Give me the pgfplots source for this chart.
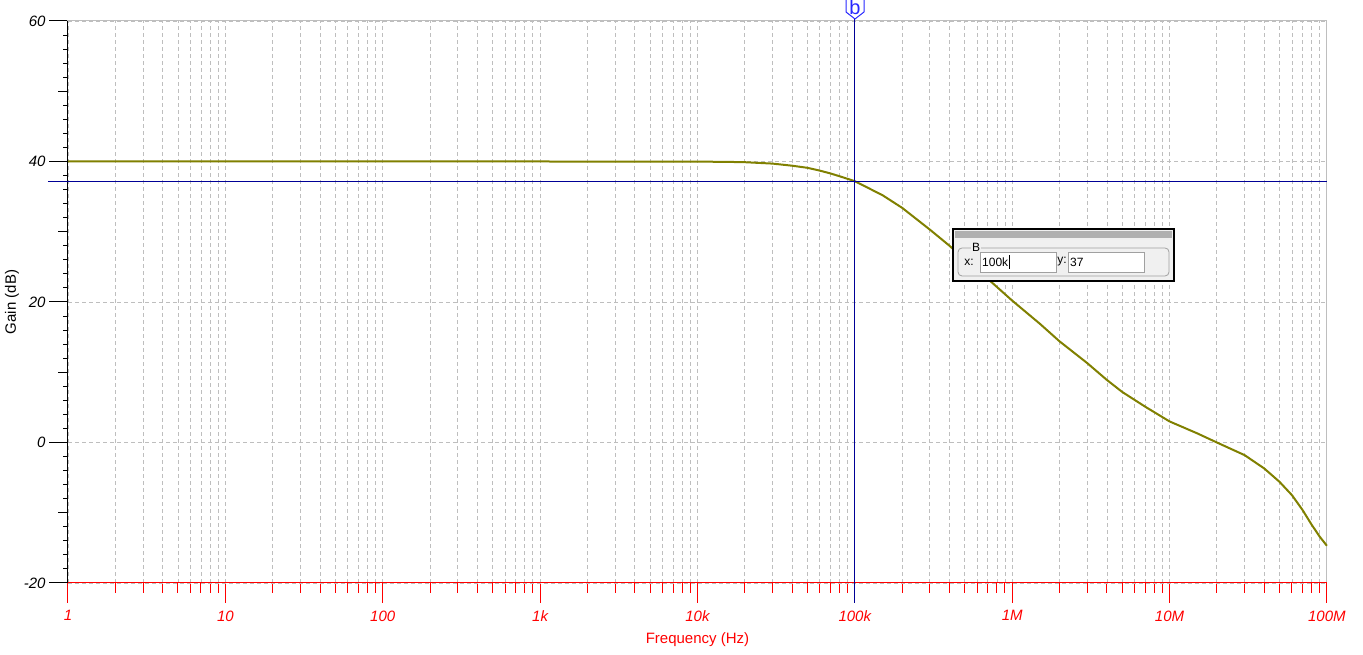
\documentclass[border=0pt]{standalone}
\usepackage{fontspec}
\setmainfont{Liberation Sans}
\usepackage{pgfplots}
\pgfplotsset{compat=1.18}
\definecolor{curve}{RGB}{128,128,0}
\definecolor{cursorblue}{RGB}{0,0,150}
\definecolor{gridgray}{RGB}{190,190,190}
\definecolor{markblue}{RGB}{40,40,255}
\definecolor{boxbg}{RGB}{240,240,240}
\definecolor{barg}{RGB}{176,176,176}
\definecolor{fieldb}{RGB}{160,160,160}
\newcommand{\tfont}{\fontsize{15}{18}\selectfont}
\pgfplotstableread{
f db
1 40
1000 40
10000 39.98
15000 39.95
20000 39.9
30000 39.7
40000 39.4
50000 39.1
60000 38.7
70000 38.3
80000 37.9
100000 37.2
150000 35.2
200000 33.4
300000 30.3
400000 28.0
500000 26.0
750000 22.7
1000000 20.2
1500000 16.9
2000000 14.4
3000000 11.3
4000000 8.9
5000000 7.2
7000000 5.1
10000000 3.0
15000000 1.3
20000000 0.0
30000000 -1.8
40000000 -3.7
50000000 -5.6
60000000 -7.5
70000000 -9.6
80000000 -11.7
90000000 -13.4
100000000 -14.7
}\gaindata
\begin{document}
\begin{tikzpicture}
\useasboundingbox (0pt,0pt) rectangle (1363pt,655pt);
% T1: x minor ticks (10pt) + y mid ticks
\begin{axis}[
  at={(68pt,72pt)}, anchor=south west,
  scale only axis, width=1259pt, height=562pt,
  xmode=log, log basis x=10,
  xmin=1, xmax=1e8, ymin=-20, ymax=60,
  xtick={1}, ytick={-20},
  xticklabels={}, yticklabels={},
  tick align=outside, tick pos=left,
  major tick length=0pt,
  every x tick/.style={red, line width=1pt},
  every minor x tick/.style={red, line width=1pt},
  every y tick/.style={black, line width=1pt},
  every minor y tick/.style={black, line width=1pt},
  axis line style={draw=none},
  minor xtick={2,3,4,5,6,7,8,9,20,30,40,50,60,70,80,90,200,300,400,500,600,700,800,900,2000,3000,4000,5000,6000,7000,8000,9000,20000,30000,40000,50000,60000,70000,80000,90000,200000,300000,400000,500000,600000,700000,800000,900000,2000000,3000000,4000000,5000000,6000000,7000000,8000000,9000000,20000000,30000000,40000000,50000000,60000000,70000000,80000000,90000000},
  minor ytick={-10,10,30,50},
  minor tick length=10pt,
]
\addplot[draw=none] coordinates {(10,0)};
\end{axis}
% T2a: first 10pt of decade ticks and y major ticks
\begin{axis}[
  at={(68pt,72pt)}, anchor=south west,
  scale only axis, width=1259pt, height=562pt,
  xmode=log, log basis x=10,
  xmin=1, xmax=1e8, ymin=-20, ymax=60,
  xtick={1}, ytick={-20},
  xticklabels={}, yticklabels={},
  tick align=outside, tick pos=left,
  major tick length=0pt,
  every x tick/.style={red, line width=1pt},
  every minor x tick/.style={red, line width=1pt},
  every y tick/.style={black, line width=1pt},
  every minor y tick/.style={black, line width=1pt},
  axis line style={draw=none},
  minor xtick={1,10,100,1000,10000,100000,1000000,10000000,100000000},
  minor ytick={-20,0,20,40,60},
  minor tick length=10pt,
]
\addplot[draw=none] coordinates {(10,0)};
\end{axis}
% T2x: second 10pt of decade ticks (axis shifted down)
\begin{axis}[
  at={(68pt,62pt)}, anchor=south west,
  scale only axis, width=1259pt, height=562pt,
  xmode=log, log basis x=10,
  xmin=1, xmax=1e8, ymin=-20, ymax=60,
  xtick={1}, ytick={-20},
  xticklabels={}, yticklabels={},
  tick align=outside, tick pos=left,
  major tick length=0pt,
  every x tick/.style={red, line width=1pt},
  every minor x tick/.style={red, line width=1pt},
  every y tick/.style={black, line width=1pt},
  every minor y tick/.style={black, line width=1pt},
  axis line style={draw=none},
  minor xtick={1,10,100,1000,10000,100000,1000000,10000000,100000000},
  minor tick length=10pt,
]
\addplot[draw=none] coordinates {(10,0)};
\end{axis}
% T2y: second 10pt of y major ticks (axis shifted left)
\begin{axis}[
  at={(59pt,72pt)}, anchor=south west,
  scale only axis, width=1259pt, height=562pt,
  xmode=log, log basis x=10,
  xmin=1, xmax=1e8, ymin=-20, ymax=60,
  xtick={1}, ytick={-20},
  xticklabels={}, yticklabels={},
  tick align=outside, tick pos=left,
  major tick length=0pt,
  every x tick/.style={red, line width=1pt},
  every minor x tick/.style={red, line width=1pt},
  every y tick/.style={black, line width=1pt},
  every minor y tick/.style={black, line width=1pt},
  axis line style={draw=none},
  minor ytick={-20,0,20,40,60},
  minor tick length=10pt,
]
\addplot[draw=none] coordinates {(10,0)};
\end{axis}
% T3: y small ticks (5pt)
\begin{axis}[
  at={(68pt,72pt)}, anchor=south west,
  scale only axis, width=1259pt, height=562pt,
  xmode=log, log basis x=10,
  xmin=1, xmax=1e8, ymin=-20, ymax=60,
  xtick={1}, ytick={-20},
  xticklabels={}, yticklabels={},
  tick align=outside, tick pos=left,
  major tick length=0pt,
  every x tick/.style={red, line width=1pt},
  every minor x tick/.style={red, line width=1pt},
  every y tick/.style={black, line width=1pt},
  every minor y tick/.style={black, line width=1pt},
  axis line style={draw=none},
  minor xtick={1},
  minor ytick={-18,-16,-14,-12,-8,-6,-4,-2,2,4,6,8,12,14,16,18,22,24,26,28,32,34,36,38,42,44,46,48,52,54,56,58},
  minor tick length=5pt,
]
\addplot[draw=none] coordinates {(10,0)};
\end{axis}
% main axis
\begin{axis}[
  at={(68pt,72pt)}, anchor=south west,
  scale only axis, width=1259pt, height=562pt,
  xmode=log, log basis x=10,
  xmin=1, xmax=1e8, ymin=-20, ymax=60,
  clip=false,
  xtick={1,10,100,1000,10000,100000,1000000,10000000,100000000},
  minor xtick={2,3,4,5,6,7,8,9,20,30,40,50,60,70,80,90,200,300,400,500,600,700,800,900,2000,3000,4000,5000,6000,7000,8000,9000,20000,30000,40000,50000,60000,70000,80000,90000,200000,300000,400000,500000,600000,700000,800000,900000,2000000,3000000,4000000,5000000,6000000,7000000,8000000,9000000,20000000,30000000,40000000,50000000,60000000,70000000,80000000,90000000},
  xticklabels={1,10,100,1k,10k,100k,1M,10M,100M},
  ytick={-20,0,20,40,60},
  yticklabels={-20,0,20,40,60},
  major tick length=0pt, minor tick length=0pt,
  xmajorgrids, xminorgrids, ymajorgrids,
  grid style={gridgray, dash pattern=on 4pt off 3pt, line width=0.8pt},
  axis line style={gridgray, line width=1pt},
  xticklabel style={red, font=\tfont\itshape, yshift=-24pt},
  yticklabel style={black, font=\tfont\itshape, xshift=-19pt},
  xlabel={Frequency (Hz)},
  ylabel={Gain (dB)},
  xlabel style={red, font=\tfont, at={(axis description cs:0.5,-0.1014)}, anchor=center},
  ylabel style={black, font=\tfont, at={(axis description cs:-0.0445,0.5)}, anchor=center},
]
\addplot[curve, line width=2pt] table[x=f, y=db] {\gaindata};
\draw[red, line width=1pt] (rel axis cs:0,0) -- (rel axis cs:1,0);
\draw[black, line width=1pt] (rel axis cs:0,0) -- (rel axis cs:0,1);
\draw[cursorblue, line width=1pt] ([yshift=-20pt]axis cs:1e5,-20) -- ([yshift=3pt]axis cs:1e5,60);
\draw[cursorblue, line width=1pt] ([xshift=-20pt]axis cs:1,37.2) -- (axis cs:1e8,37.2);
\end{axis}
% cursor marker
\draw[markblue, line width=1pt, fill=white] (846pt,657pt) -- (846pt,643pt) -- (855pt,636pt) -- (864pt,643pt) -- (864pt,657pt);
\node[markblue, font=\fontsize{20}{20}\selectfont, inner sep=0pt] at (855pt,648pt) {b};
% readout box
\draw[black, line width=1.5pt, fill=boxbg] (953pt,426pt) rectangle (1174pt,374pt);
\fill[barg] (955pt,424pt) rectangle (1172pt,417pt);
\draw[fieldb, line width=0.8pt, rounded corners=4pt] (958pt,407pt) rectangle (1169pt,379pt);
\node[fill=boxbg, inner sep=1pt, font=\fontsize{12}{12}\selectfont] at (976pt,408pt) {B};
\node[font=\fontsize{12}{12}\selectfont, inner sep=0pt] at (969pt,393pt) {x:};
\draw[fieldb, line width=0.8pt, fill=white] (980pt,403pt) rectangle (1056pt,383pt);
\node[font=\fontsize{12}{12}\selectfont, inner sep=0pt, anchor=west] at (982pt,393pt) {100k};
\draw[black, line width=0.8pt] (1009.5pt,386pt) -- (1009.5pt,400pt);
\node[font=\fontsize{12}{12}\selectfont, inner sep=0pt] at (1062pt,393pt) {y:};
\draw[fieldb, line width=0.8pt, fill=white] (1068pt,403pt) rectangle (1144pt,383pt);
\node[font=\fontsize{12}{12}\selectfont, inner sep=0pt, anchor=west] at (1070pt,393pt) {37};
\end{tikzpicture}
\end{document}
